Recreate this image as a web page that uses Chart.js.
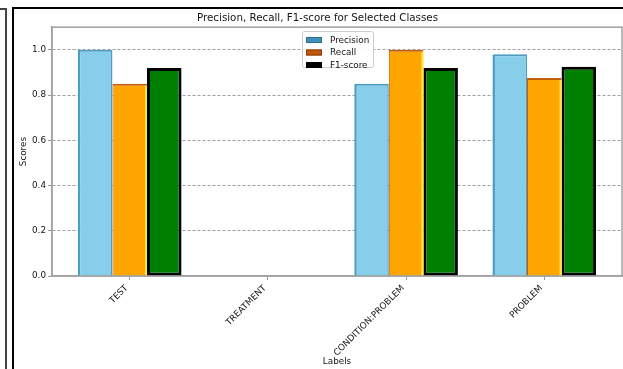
<!DOCTYPE html>
<html>
<head>
<meta charset="utf-8">
<script src="https://cdn.jsdelivr.net/npm/chart.js@4.4.1/dist/chart.umd.min.js"></script>
<style>
  html, body { margin: 0; padding: 0; background: #fff; overflow: hidden; }
  #wrap { position: relative; width: 623px; height: 369px; }
  #c { position: absolute; left: 0; top: 0; }
  .frame { position: absolute; background: #000; }
</style>
</head>
<body>
<div id="wrap">
  <canvas id="c" width="623" height="369"></canvas>
  <div class="frame" style="left:5px;top:8px;width:1.5px;height:361px;background:#444"></div>
  <div class="frame" style="left:0;top:8px;width:6.5px;height:1.5px;background:#444"></div>
  <div class="frame" style="left:12px;top:6.5px;width:2px;height:363px"></div>
  <div class="frame" style="left:12px;top:6.5px;width:611px;height:2px"></div>
</div>
<script>
// Per-class scores
const categories = ['TEST', 'TREATMENT', 'CONDITION:PROBLEM', 'PROBLEM'];
const precision = [1.0, null, 0.85, 0.98];
const recall = [0.85, null, 1.0, 0.875];
const f1Score = [0.92, null, 0.92, 0.925];
const yTickValues = [0, 0.2, 0.4, 0.6, 0.8, 1.0];

const FONT = "'DejaVu Sans', sans-serif";
const TEXT = '#151515';
const SMALL = 8.8;

function toPoints(values) {
  return values
    .map((v, i) => ({ x: i, y: v }))
    .filter(p => p.y !== null);
}

// Soft bar edges plus highlight strokes, spines, and the legend box
const decor = {
  id: 'decor',
  beforeDatasetsDraw(chart) {
    chart.ctx.save();
    chart.ctx.filter = 'blur(0.6px)';
  },
  afterDatasetsDraw(chart) {
    const ctx = chart.ctx;
    // yellow highlight on the right edge of recall bars
    const meta = chart.getDatasetMeta(1);
    meta.data.forEach(bar => {
      const p = bar.getProps(['x', 'y', 'base', 'width'], true);
      ctx.fillStyle = '#ffe83a';
      ctx.fillRect(p.x + p.width / 2 - 2, p.y + 2, 2, p.base - p.y - 2);
    });
    ctx.restore();

    // spines
    const a = chart.chartArea;
    ctx.save();
    ctx.strokeStyle = '#a0a0a0';
    ctx.lineWidth = 1.5;
    ctx.strokeRect(a.left, a.top, a.right - a.left, a.bottom - a.top);
    ctx.restore();
  },
  afterDraw(chart) {
    const ctx = chart.ctx;
    const o = chart.options.plugins.decor;
    ctx.save();
    ctx.fillStyle = 'rgba(255,255,255,0.9)';
    ctx.strokeStyle = '#cccccc';
    ctx.lineWidth = 1;
    ctx.beginPath();
    ctx.roundRect(o.x + 0.5, o.y + 0.5, o.w, o.h, 2);
    ctx.fill();
    ctx.stroke();
    ctx.font = SMALL + 'px ' + FONT;
    ctx.textBaseline = 'middle';
    chart.data.datasets.forEach((ds, i) => {
      const cy = o.y + 9 + i * 12.5;
      ctx.fillStyle = ds.legendFill;
      ctx.fillRect(o.x + 4, cy - 3, 16, 6);
      ctx.strokeStyle = ds.legendEdge;
      ctx.lineWidth = 1;
      ctx.strokeRect(o.x + 4.5, cy - 2.5, 15, 5);
      ctx.fillStyle = TEXT;
      ctx.fillText(ds.label, o.x + 28, cy + 0.5);
    });
    ctx.restore();
  }
};

new Chart(document.getElementById('c'), {
  type: 'bar',
  data: {
    datasets: [
      {
        label: 'Precision',
        data: toPoints(precision),
        backgroundColor: '#87ceeb',
        borderColor: '#4b9dc4',
        borderWidth: { top: 2, left: 2.5, right: 1.5, bottom: 0 },
        borderSkipped: false,
        legendFill: '#3f90b8',
        legendEdge: '#2a6d8f'
      },
      {
        label: 'Recall',
        data: toPoints(recall),
        backgroundColor: '#ffa500',
        borderColor: '#c2600e',
        borderWidth: { top: 2, left: 1, right: 0, bottom: 0 },
        borderSkipped: false,
        legendFill: '#c0580e',
        legendEdge: '#8a3a05'
      },
      {
        label: 'F1-score',
        data: toPoints(f1Score),
        backgroundColor: '#008000',
        borderColor: '#000000',
        borderWidth: 3,
        borderSkipped: false,
        legendFill: '#000000',
        legendEdge: '#000000'
      }
    ]
  },
  options: {
    responsive: false,
    animation: false,
    devicePixelRatio: 1,
    categoryPercentage: 0.75,
    barPercentage: 1.0,
    layout: { padding: { left: 13, right: 1, top: 0, bottom: 0 } },
    plugins: {
      legend: { display: false },
      tooltip: { enabled: false },
      title: {
        display: true,
        text: 'Precision, Recall, F1-score for Selected Classes',
        color: TEXT,
        font: { family: FONT, size: 10.3, weight: 'normal', lineHeight: 1.2 },
        padding: { top: 11.8, bottom: 3 }
      },
      decor: { x: 302, y: 31, w: 71, h: 36 }
    },
    scales: {
      x: {
        type: 'linear',
        offset: false,
        min: -0.5625,
        max: 3.5625,
        afterBuildTicks: axis => { axis.ticks = categories.map((c, i) => ({ value: i })); },
        afterFit: axis => { axis.height = 93; },
        ticks: {
          autoSkip: false,
          minRotation: 45,
          maxRotation: 45,
          padding: 3,
          labelOffset: -3,
          color: TEXT,
          font: { family: FONT, size: SMALL },
          callback: v => categories[v]
        },
        grid: { offset: false, drawOnChartArea: false, drawTicks: true, tickLength: 4, tickColor: '#999', tickWidth: 1 },
        border: { display: true, color: '#a0a0a0', width: 1.5 },
        title: {
          display: true,
          text: 'Labels',
          color: TEXT,
          font: { family: FONT, size: SMALL, lineHeight: 1.2 },
          padding: { top: 0, bottom: 2 }
        }
      },
      y: {
        min: 0,
        max: 1.1,
        afterBuildTicks: axis => { axis.ticks = yTickValues.map(v => ({ value: v })); },
        afterFit: axis => { axis.width = 39; },
        ticks: {
          padding: 2,
          color: TEXT,
          font: { family: FONT, size: SMALL },
          callback: v => v.toFixed(1)
        },
        grid: {
          color: ctx => ctx.tick && ctx.tick.value === 0 ? 'rgba(0,0,0,0)' : '#777',
          lineWidth: 0.7,
          tickLength: 4,
          tickColor: '#999',
          tickWidth: 1
        },
        border: { display: true, color: '#a0a0a0', width: 1.5, dash: [3, 2] },
        title: {
          display: true,
          text: 'Scores',
          color: TEXT,
          font: { family: FONT, size: SMALL, lineHeight: 1.2 },
          padding: { top: 5, bottom: 0 }
        }
      }
    }
  },
  plugins: [decor]
});
</script>
</body>
</html>
